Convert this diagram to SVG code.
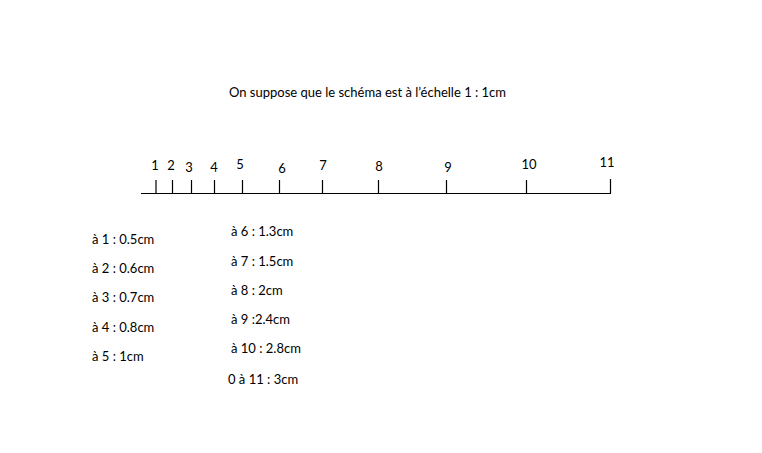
<svg xmlns="http://www.w3.org/2000/svg" width="762" height="453" viewBox="0 0 762 453">
<style>
text{font-family:"Lato","Open Sans","Liberation Sans",sans-serif;font-size:13px;fill:#000}
.tick{stroke:#000;stroke-width:1.2}
.n{text-anchor:middle}
</style>
<rect width="762" height="453" fill="#fff"/>
<text x="229" y="97">On suppose que le schéma est à l’échelle 1 : 1cm</text>
<g id="ruler">
<line class="tick" x1="141" y1="193.5" x2="611" y2="193.5"/>
<line class="tick" x1="156" y1="180" x2="156" y2="193"/>
<line class="tick" x1="172.5" y1="180" x2="172.5" y2="193"/>
<line class="tick" x1="191.5" y1="180" x2="191.5" y2="193"/>
<line class="tick" x1="214.5" y1="180" x2="214.5" y2="193"/>
<line class="tick" x1="242.5" y1="180" x2="242.5" y2="193"/>
<line class="tick" x1="279.5" y1="180" x2="279.5" y2="193"/>
<line class="tick" x1="322.5" y1="180" x2="322.5" y2="193"/>
<line class="tick" x1="378.5" y1="180" x2="378.5" y2="193"/>
<line class="tick" x1="446.5" y1="180" x2="446.5" y2="193"/>
<line class="tick" x1="526.5" y1="180" x2="526.5" y2="193"/>
<line class="tick" x1="610.5" y1="179" x2="610.5" y2="193"/>
</g>
<g id="labels">
<text class="n" x="155" y="170">1</text>
<text class="n" x="171" y="170">2</text>
<text class="n" x="189" y="172">3</text>
<text class="n" x="214" y="172">4</text>
<text class="n" x="240" y="169">5</text>
<text class="n" x="282" y="173">6</text>
<text class="n" x="323" y="170">7</text>
<text class="n" x="379" y="171">8</text>
<text class="n" x="448" y="172">9</text>
<text class="n" x="529" y="169">10</text>
<text class="n" x="607" y="167">11</text>
</g>
<g id="left">
<text x="92" y="244">à 1 : 0.5cm</text>
<text x="92" y="273">à 2 : 0.6cm</text>
<text x="92" y="302">à 3 : 0.7cm</text>
<text x="92" y="332">à 4 : 0.8cm</text>
<text x="92" y="361">à 5 : 1cm</text>
</g>
<g id="right">
<text x="231" y="236">à 6 : 1.3cm</text>
<text x="231" y="266">à 7 : 1.5cm</text>
<text x="231" y="295">à 8 : 2cm</text>
<text x="231" y="324">à 9 :2.4cm</text>
<text x="231" y="353">à 10 : 2.8cm</text>
<text x="228" y="384">0 à 11 : 3cm</text>
</g>
</svg>
